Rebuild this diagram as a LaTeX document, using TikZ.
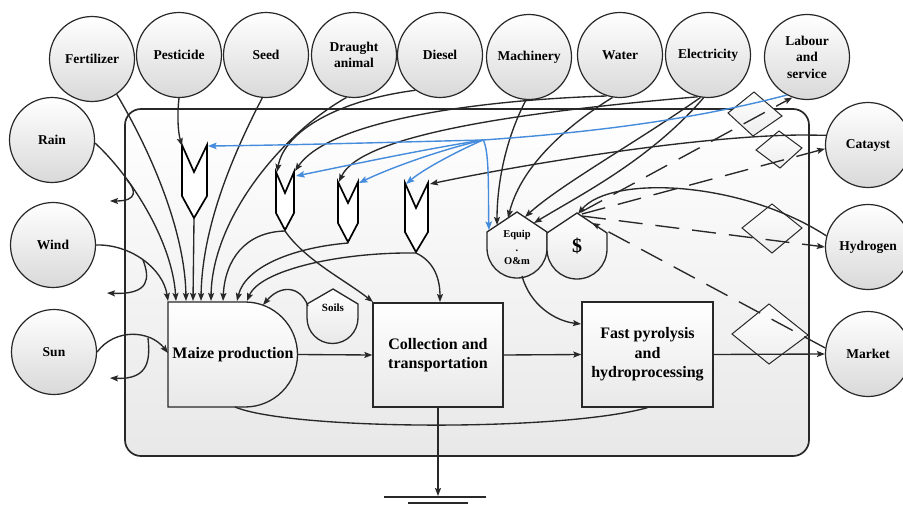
\documentclass[tikz,border=0pt]{standalone}
\usepackage{fontspec}
\setmainfont{Liberation Serif}
\usetikzlibrary{arrows.meta}
\definecolor{ln}{RGB}{40,40,40}
\definecolor{bl}{RGB}{70,140,220}
\newcommand\srcfont{\bfseries\fontsize{13.5}{16.5}\selectfont}
\newcommand\boxfont{\bfseries\fontsize{16}{19.5}\selectfont}
\newcommand\smfont{\bfseries\fontsize{10.5}{13.5}\selectfont}
\begin{document}
\begin{tikzpicture}[x=1pt,y=-1pt,
  src/.style={circle,draw=ln,line width=1.2pt,minimum size=85pt,inner sep=0pt,align=center,top color=white,bottom color=black!15,font=\srcfont},
  flow/.style={draw=ln,line width=1.35pt},
  arr/.style={flow,-{Stealth[length=8pt,width=6pt,inset=1.5pt]}},
  blu/.style={draw=bl,line width=1.4pt,-{Stealth[length=8.5pt,width=6.5pt,inset=1.5pt]}},
  money/.style={arr,dash pattern=on 24pt off 13pt},
  tankbox/.style={draw=black,line width=1.7pt,fill=white,line join=miter},
  procbox/.style={draw=ln,line width=1.3pt,top color=white,bottom color=black!9},
  diam/.style={draw=ln,line width=1pt,top color=white,bottom color=black!7},
  lbl/.style={font=\boxfont,align=center,inner sep=0pt}
]
\fill[white] (0,0) rectangle (903,506);
\useasboundingbox (0,0) rectangle (903,506);

% system frame
\node[draw=ln,line width=1.7pt,rounded corners=16pt,minimum width=684pt,minimum height=347pt,
      top color=white,bottom color=black!9,inner sep=0pt] (frame) at (467,282.5) {};

% sources
\node[src] (fert) at (92,59) {Fertilizer};
\node[src] (pest) at (179,55) {Pesticide};
\node[src] (seed) at (266,55) {Seed};
\node[src] (draught) at (354,55) {Draught\\animal};
\node[src] (diesel) at (440,55) {Diesel};
\node[src] (mach) at (529,57) {Machinery};
\node[src] (water) at (620,55) {Water};
\node[src] (elec) at (708,55) {Electricity};
\node[src] (labour) at (807,57) {Labour\\and\\service};
\node[src] (cat) at (868,145) {Catayst};
\node[src] (hyd) at (868,247) {Hydrogen};
\node[src] (market) at (868,354) {Market};
\node[src] (rain) at (52,140) {Rain};
\node[src] (wind) at (53,245) {Wind};
\node[src] (sun) at (54,352) {Sun};

% transaction diamonds
\path[diam] (728,113) -- (754,92) -- (782,116) -- (753,136) -- cycle;
\path[diam] (756,150) -- (779,131) -- (802,148) -- (780,168) -- cycle;
\path[diam] (742,228) -- (772,204) -- (802,228) -- (772,253) -- cycle;
\path[diam] (732,334) -- (769,304) -- (808,335) -- (769,364) -- cycle;

% maize production
\path[procbox] (168,302) -- (245,302) .. controls (274,302) and (297.5,325.5) .. (297.5,354.5)
   .. controls (297.5,383.5) and (274,407) .. (245,407) -- (168,407) -- cycle;
\node[lbl] (maize) at (233,355) {Maize production};
\coordinate (mzE) at (297.5,354.5);
\coordinate (mzW) at (168,353);
\coordinate (mzS) at (235,407);

% processes
\node[procbox,minimum width=130pt,minimum height=104pt,lbl] (coll) at (438,355) {Collection and\\transportation};
\node[procbox,minimum width=131pt,minimum height=105pt,lbl] (fp) at (647.5,354.5) {Fast pyrolysis\\and\\hydroprocessing};
\coordinate (fpIn) at (581,324);

% soils storage
\path[procbox] (333,289) -- (358,304) -- (358,318) .. controls (358,332.1) and (346.6,343.5) .. (332.5,343.5)
   .. controls (318.4,343.5) and (307,332.1) .. (307,318) -- (307,304) -- cycle;
\node[font=\bfseries\fontsize{11}{13}\selectfont,inner sep=0pt] (soils) at (333,308) {Soils};
\coordinate (soilW) at (308,306);

% equip and $
\path[procbox] (517,212) -- (547,232) -- (547,248) .. controls (547,264.6) and (533.6,278) .. (517,278)
   .. controls (500.4,278) and (487,264.6) .. (487,248) -- (487,232) -- cycle;
\node[font=\smfont,align=center,inner sep=0pt] (equip) at (517,247.5) {Equip\\.\\O\&m};
\path[procbox] (577,213) -- (607,233) -- (607,249) .. controls (607,265.6) and (593.6,279) .. (577,279)
   .. controls (560.4,279) and (547,265.6) .. (547,249) -- (547,233) -- cycle;
\node[font=\bfseries\fontsize{20}{24}\selectfont,inner sep=0pt] (dollar) at (577,246) {\$};
\coordinate (eqS) at (522,276);
\coordinate (eqA) at (497,225);
\coordinate (eqB) at (508,218);
\coordinate (eqC) at (525,217);
\coordinate (eqD) at (534,223);
\coordinate (eqBlue) at (489,230);
\coordinate (dTop) at (578,214);
\coordinate (dRight) at (592,223);
\coordinate (dOut1) at (581,212);
\coordinate (dOut2) at (582,214);
\coordinate (dOut3) at (582,216);

% tanks
\path[tankbox] (182,145) -- (194,172) -- (207,145) -- (207,196) -- (194,218) -- (182,196) -- cycle;
\path[tankbox] (276,172) -- (285,193) -- (294,172) -- (294,213) -- (285,230) -- (276,213) -- cycle;
\path[tankbox] (338,182) -- (348,203) -- (358,182) -- (358,223) -- (348,242) -- (338,223) -- cycle;
\path[tankbox] (405,183) -- (416,208) -- (428,183) -- (428,232) -- (416,252) -- (405,232) -- cycle;
\coordinate (t1l) at (182,146); \coordinate (t1r) at (208,146); \coordinate (t1tip) at (194,219);
\coordinate (t2l) at (277,172); \coordinate (t2r) at (295,171); \coordinate (t2rb) at (296,176); \coordinate (t2tip) at (285,231);
\coordinate (t3l) at (339,182); \coordinate (t3r) at (359,183); \coordinate (t3tip) at (348,243);
\coordinate (t4l) at (406,184); \coordinate (t4r) at (430,184); \coordinate (t4tip) at (416,253);

% maize top ports
\coordinate (mz1) at (168,301); \coordinate (mz2) at (176,301); \coordinate (mz3) at (186,301);
\coordinate (mz4) at (193,301); \coordinate (mz5) at (201,301); \coordinate (mz6) at (211,301);
\coordinate (mz7) at (223,301); \coordinate (mz8) at (237,301); \coordinate (mz9) at (247,301);
\coordinate (mz10) at (263,305);
\coordinate (cTL) at (373,302); \coordinate (cT) at (440,302);

% environmental inputs and their branches
\coordinate (wbr) at (143,260); \coordinate (wout) at (107,293);
\coordinate (rbr) at (127,180); \coordinate (rout) at (110,201);
\coordinate (sbr) at (148,338); \coordinate (sout) at (110,378);
\draw[arr] (wind.east) .. controls (130,244) and (163,268) .. (mz1);
\draw[arr] (wbr) .. controls (150,278) and (150,295) .. (wout);
\draw[arr] (rain.-4) .. controls (130,175) and (172,240) .. (mz2);
\draw[arr] (rbr) .. controls (136,190) and (138,201) .. (rout);
\draw[arr] (sun.east) .. controls (115,328) and (150,330) .. (mzW);
\draw[arr] (sbr) .. controls (150,358) and (150,380) .. (sout);

% purchased inputs to maize
\draw[arr] (fert.-55) .. controls (150,150) and (185,230) .. (mz3);
\draw[arr] (t1tip) -- (mz4);
\draw[arr] (seed.-95) .. controls (230,160) and (202,230) .. (mz5);
\draw[arr] (draught.-100) .. controls (280,135) and (212,220) .. (mz6);
\draw[arr] (t2tip) .. controls (245,232) and (225,260) .. (mz7);
\draw[arr] (t3tip) .. controls (290,248) and (245,268) .. (mz8);
\draw[arr] (t4tip) .. controls (340,252) and (260,270) .. (mz9);
\draw[arr] (soilW) .. controls (300,285) and (280,285) .. (mz10);
\draw[arr] (t2tip) .. controls (305,260) and (345,280) .. (cTL);
\draw[arr] (t4tip) .. controls (435,262) and (440,280) .. (cT);

% inputs to tanks
\draw[arr] (pest.-90) .. controls (177,115) and (178,132) .. (t1l);
\draw[arr] (diesel.-125) .. controls (340,100) and (285,130) .. (t2l);
\draw[arr] (water.-108) .. controls (480,100) and (330,120) .. (t2r);
\draw[arr] (elec.-104) .. controls (520,112) and (360,135) .. (t3l);
\draw[arr] (cat.167) -- (805,135) .. controls (700,135) and (520,165) .. (t4r);

% inputs to equipment
\draw[arr] (mach.-94) .. controls (505,140) and (497,185) .. (eqA);
\draw[arr] (water.-100) .. controls (560,130) and (520,170) .. (eqB);
\draw[arr] (elec.-100) .. controls (640,140) and (560,185) .. (eqC);
\draw[arr] (elec.-96) .. controls (650,160) and (580,195) .. (eqD);
\draw[arr] (hyd.165) .. controls (740,180) and (610,175) .. (dTop);

% labour (blue)
\coordinate (fan) at (483,140);
\draw[draw=bl,line width=1.4pt] (labour.-118) .. controls (700,118) and (600,132) .. (fan);
\draw[blu] (fan) .. controls (400,142) and (300,145) .. (t1r);
\draw[blu] (fan) .. controls (420,150) and (350,165) .. (t2rb);
\draw[blu] (fan) .. controls (440,150) and (390,168) .. (t3r);
\draw[blu] (fan) .. controls (460,150) and (425,168) .. (t4l);
\draw[blu] (fan) .. controls (490,150) and (488,200) .. (eqBlue);

% main flows
\draw[arr] (mzE) -- (coll.west);
\draw[arr] (coll.east) -- (fp.west);
\draw[arr] (fp.east) -- (market.west);
\draw[arr] (eqS) .. controls (530,305) and (555,321) .. (fpIn);
\draw[flow] (fp.south) .. controls (560,432) and (290,430) .. (mzS);

% money flows
\draw[money] (dOut1) -- (labour.-110);
\draw[money] (dOut2) -- (cat.185);
\draw[money] (dOut3) -- (hyd.180);
\draw[money] (market.172) -- (dRight);

% heat sink
\coordinate (gnd) at (438,496);
\coordinate (g1a) at (384,497); \coordinate (g1b) at (486,497);
\coordinate (g2a) at (408,503); \coordinate (g2b) at (468,503);
\draw[arr] (coll.south) -- (gnd);
\draw[flow] (g1a) -- (g1b);
\draw[flow] (g2a) -- (g2b);
\end{tikzpicture}
\end{document}
